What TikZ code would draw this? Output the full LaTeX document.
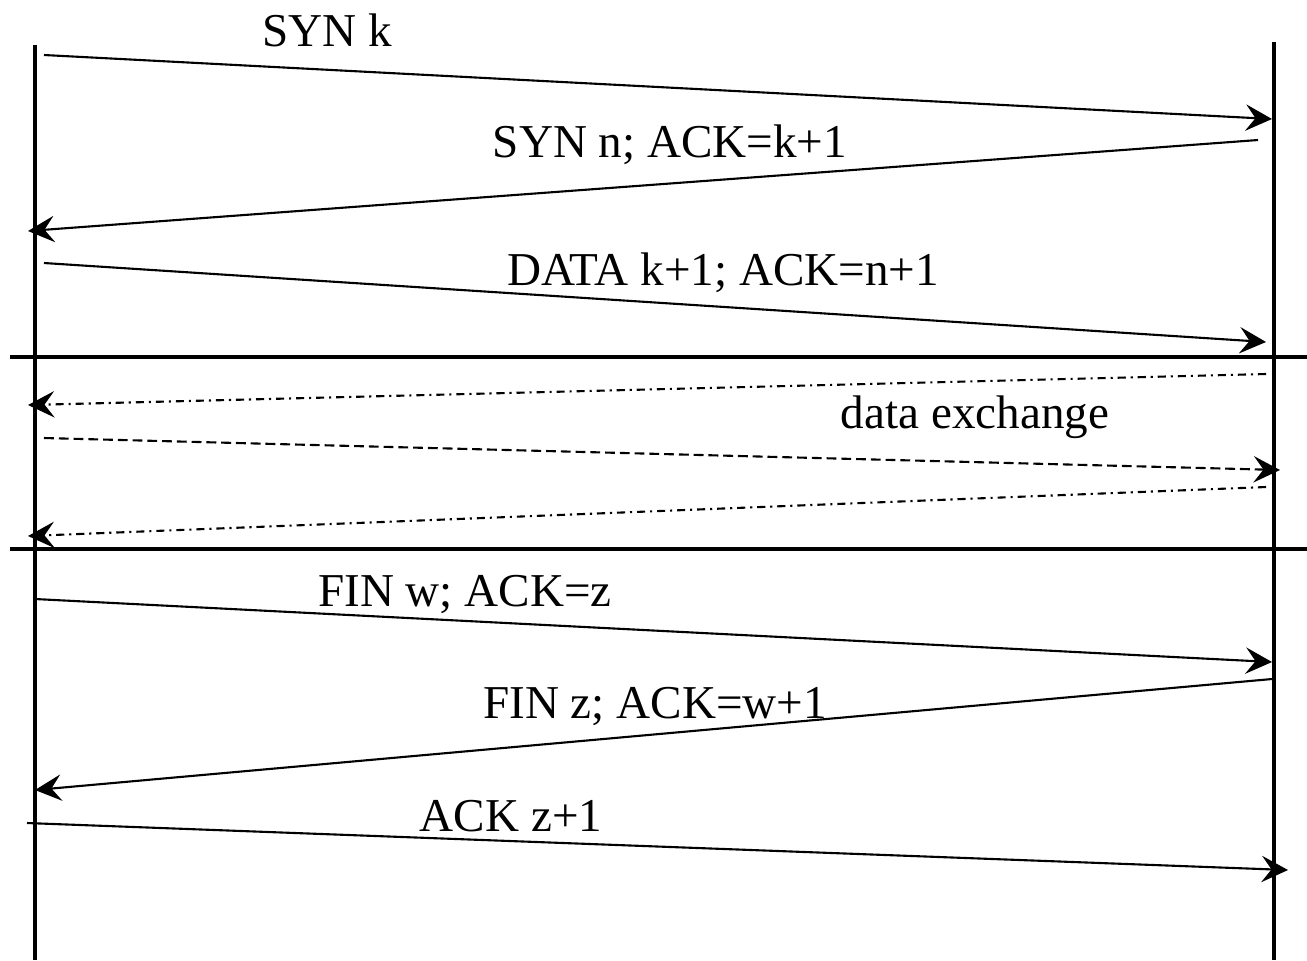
\documentclass[tikz,border=0pt]{standalone}
\usepackage{fontspec}
\setmainfont{Liberation Serif}
\usetikzlibrary{arrows.meta}
\begin{document}
\begin{tikzpicture}[x=0.01cm,y=-0.01cm,
  life/.style={line width=0.9pt},
  sep/.style={line width=0.9pt},
  msg/.style={line width=0.6pt,-{Stealth[length=7.5pt,width=7.5pt,inset=2.8pt]}},
  dd/.style={msg,dash pattern=on 2.3pt off 1.4pt on 0.6pt off 1.4pt},
  dsh/.style={msg,dash pattern=on 2.8pt off 1.4pt},
  lbl/.style={anchor=base,inner sep=0pt,font=\fontsize{13.4}{15}\selectfont}]
\useasboundingbox (0,0) rectangle (1307,960);
% lifelines
\coordinate (Lt) at (35,45); \coordinate (Lb) at (35,960);
\coordinate (Rt) at (1274,42); \coordinate (Rb) at (1274,960);
\draw[life] (Lt) -- (Lb);
\draw[life] (Rt) -- (Rb);
% separators
\coordinate (S1a) at (10,357); \coordinate (S1b) at (1307,357);
\coordinate (S2a) at (10,549); \coordinate (S2b) at (1307,549);
\draw[sep] (S1a) -- (S1b);
\draw[sep] (S2a) -- (S2b);
% messages
\coordinate (a1) at (44,55); \coordinate (b1) at (1272,119);
\coordinate (a2) at (1258,140); \coordinate (b2) at (28,231);
\coordinate (a3) at (44,263); \coordinate (b3) at (1266,342);
\coordinate (a4) at (1266,374); \coordinate (b4) at (28,405);
\coordinate (a5) at (44,438); \coordinate (b5) at (1280,470);
\coordinate (a6) at (1266,487); \coordinate (b6) at (28,536);
\coordinate (a7) at (35,599); \coordinate (b7) at (1272,662);
\coordinate (a8) at (1272,679); \coordinate (b8) at (35,790);
\coordinate (a9) at (27,823); \coordinate (b9) at (1288,870);
\draw[msg] (a1) -- (b1);
\draw[msg] (a2) -- (b2);
\draw[msg] (a3) -- (b3);
\draw[dd] (a4) -- (b4);
\draw[dsh] (a5) -- (b5);
\draw[dd] (a6) -- (b6);
\draw[msg] (a7) -- (b7);
\draw[msg] (a8) -- (b8);
\draw[msg] (a9) -- (b9);
% labels
\node[lbl] (t1) at (327,46) {SYN k};
\node[lbl] (t2) at (670,157) {SYN n; ACK=k+1};
\node[lbl] (t3) at (723,285) {DATA k+1; ACK=n+1};
\node[lbl] (t4) at (975,428) {data exchange};
\node[lbl] (t5) at (465,606) {FIN w; ACK=z};
\node[lbl] (t6) at (655,718) {FIN z; ACK=w+1};
\node[lbl] (t7) at (511,831) {ACK z+1};
\end{tikzpicture}
\end{document}
